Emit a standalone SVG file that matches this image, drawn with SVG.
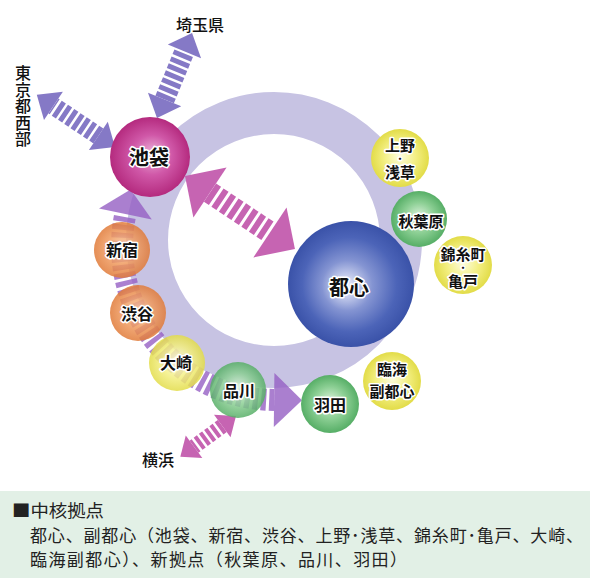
<svg xmlns="http://www.w3.org/2000/svg" width="590" height="578" viewBox="0 0 590 578">
<defs>
<radialGradient id="gOrange" cx="50%" cy="50%" r="50%" fx="50%" fy="45%">
<stop offset="0" stop-color="#f8caa2"/><stop offset="0.55" stop-color="#ef9a5e"/><stop offset="1" stop-color="#e07a38"/>
</radialGradient>
<radialGradient id="gYellow" cx="50%" cy="50%" r="50%" fx="50%" fy="45%">
<stop offset="0" stop-color="#fdfde0"/><stop offset="0.55" stop-color="#f3ef82"/><stop offset="1" stop-color="#e2dc48"/>
</radialGradient>
<radialGradient id="gGreen" cx="50%" cy="50%" r="50%" fx="50%" fy="45%">
<stop offset="0" stop-color="#dcf2dc"/><stop offset="0.55" stop-color="#8ccf94"/><stop offset="1" stop-color="#56ae66"/>
</radialGradient>
<radialGradient id="gPink" cx="50%" cy="50%" r="50%" fx="55%" fy="45%">
<stop offset="0" stop-color="#ecb4da"/><stop offset="0.5" stop-color="#d058a8"/><stop offset="1" stop-color="#b42a7e"/>
</radialGradient>
<radialGradient id="gBlue" cx="50%" cy="50%" r="50%" fx="45%" fy="52%">
<stop offset="0" stop-color="#f6f7ff"/><stop offset="0.4" stop-color="#8494d2"/><stop offset="0.75" stop-color="#4c64b8"/><stop offset="1" stop-color="#3a52a8"/>
</radialGradient>
<style>
.lbl{font-family:"Noto Sans CJK JP","Noto Sans",sans-serif;font-weight:700;fill:#111;stroke:#fff;stroke-width:3;paint-order:stroke;stroke-linejoin:round;text-anchor:middle}
.dot{font-size:9px}
.out{font-family:"Noto Sans CJK JP","Noto Sans",sans-serif;font-weight:500;fill:#111;text-anchor:middle;font-size:16px}
.box{font-family:"Noto Sans CJK JP","Noto Sans",sans-serif;fill:#222;font-size:17px}
.pink{fill:#c664b2;stroke:#c664b2}
.blue{fill:#8579c6;stroke:#8579c6}
.shaft{fill:none}
</style>
</defs>
<rect width="590" height="578" fill="#fff"/>
<circle id="ring" cx="274" cy="240" r="127" fill="none" stroke="#c7c3e3" stroke-width="42"/>
<g id="connectors">
<g id="band" opacity="0.8">
<path d="M274.1,400 A154,154 0 0 1 125.4,214" fill="none" stroke="#9660c4" stroke-width="22" stroke-dasharray="5 3"/>
<polygon points="99,208.4 151.8,219.6 130.6,189.5" fill="#9660c4"/>
<polygon points="274.4,373 273.8,427 302,400.3" fill="#9660c4"/>
</g>
<g id="a-ikebukuro-toshin" class="pink" transform="translate(185 176) rotate(33.6)">
<line class="shaft" x1="30" y1="0" x2="102" y2="0" stroke-width="22" stroke-dasharray="6 3"/>
<polygon points="0,0 30,-30 30,30" stroke="none"/>
<polygon points="132,0 102,-30 102,30" stroke="none"/>
</g>
<g id="a-saitama" class="blue" transform="translate(157 118) rotate(-67.6)">
<line class="shaft" x1="20" y1="0" x2="72" y2="0" stroke-width="20" stroke-dasharray="5 2.5"/>
<polygon points="0,0 20,-18 20,18" stroke="none"/>
<polygon points="92,0 72,-18 72,18" stroke="none"/>
</g>
<g id="a-tokyowest" class="blue" transform="translate(115 147) rotate(-146.3)">
<line class="shaft" x1="20" y1="0" x2="74" y2="0" stroke-width="18" stroke-dasharray="5 2.5"/>
<polygon points="0,0 20,-17 20,17" stroke="none"/>
<polygon points="94,0 74,-17 74,17" stroke="none"/>
</g>
<g id="a-yokohama" class="pink" transform="translate(236 416) rotate(143.8)">
<line class="shaft" x1="17" y1="0" x2="52" y2="0" stroke-width="15" stroke-dasharray="4 2.5"/>
<polygon points="0,0 17,-14 17,14" stroke="none"/>
<polygon points="69,0 52,-14 52,14" stroke="none"/>
</g>
</g>
<g id="n-ikebukuro"><circle cx="150" cy="157" r="40" fill="url(#gPink)"/><text class="lbl" x="149" y="165" font-size="20">池袋</text></g>
<g id="n-toshin"><circle cx="351" cy="284" r="63" fill="url(#gBlue)"/><text class="lbl" x="349" y="295" font-size="20">都心</text></g>
<g id="n-ueno"><circle cx="400" cy="158" r="29" fill="url(#gYellow)"/><text class="lbl" font-size="15"><tspan x="400" y="151">上野</tspan><tspan class="dot" x="400" y="162">・</tspan><tspan x="400" y="177.5">浅草</tspan></text></g>
<g id="n-akihabara"><circle cx="419" cy="219" r="28" fill="url(#gGreen)"/><text class="lbl" x="421" y="227" font-size="15">秋葉原</text></g>
<g id="n-kinshicho"><circle cx="463" cy="265" r="29" fill="url(#gYellow)"/><text class="lbl" font-size="15"><tspan x="463" y="260">錦糸町</tspan><tspan class="dot" x="463" y="271">・</tspan><tspan x="463" y="286.5">亀戸</tspan></text></g>
<g id="n-rinkai"><circle cx="392" cy="381" r="29" fill="url(#gYellow)"/><text class="lbl" font-size="15"><tspan x="392" y="375">臨海</tspan><tspan x="392" y="397">副都心</tspan></text></g>
<g id="n-haneda"><circle cx="330" cy="404" r="29" fill="url(#gGreen)"/><text class="lbl" x="330" y="411" font-size="16">羽田</text></g>
<g id="n-shinagawa"><circle cx="238" cy="390" r="28" fill="url(#gGreen)" opacity="0.85"/><text class="lbl" x="239" y="397" font-size="16">品川</text></g>
<g id="n-osaki"><circle cx="177" cy="363" r="28" fill="url(#gYellow)" opacity="0.85"/><text class="lbl" x="176" y="369" font-size="16">大崎</text></g>
<g id="n-shibuya"><circle cx="138" cy="313" r="28" fill="url(#gOrange)" opacity="0.85"/><text class="lbl" x="137" y="320" font-size="16">渋谷</text></g>
<g id="n-shinjuku"><circle cx="122" cy="250" r="28" fill="url(#gOrange)" opacity="0.85"/><text class="lbl" x="122" y="256" font-size="16">新宿</text></g>
<g id="l-saitama"><text class="out" x="200" y="31">埼玉県</text></g>
<g id="l-tokyowest"><text class="out" x="23" y="65" style="writing-mode:vertical-rl;text-anchor:start;letter-spacing:0.5px">東京都西部</text></g>
<g id="l-yokohama"><text class="out" x="158" y="466">横浜</text></g>
<g id="legend">
<rect x="0" y="491" width="590" height="87" fill="#e2f0e6"/>
<text class="box" x="12" y="517" textLength="92" lengthAdjust="spacingAndGlyphs">■中核拠点</text>
<text class="box" x="30" y="542" textLength="553" lengthAdjust="spacing">都心、副都心（池袋、新宿、渋谷、上野･浅草、錦糸町･亀戸、大崎、</text>
<text class="box" x="30" y="566" textLength="377" lengthAdjust="spacing">臨海副都心）、新拠点（秋葉原、品川、羽田）</text>
</g>
</svg>
